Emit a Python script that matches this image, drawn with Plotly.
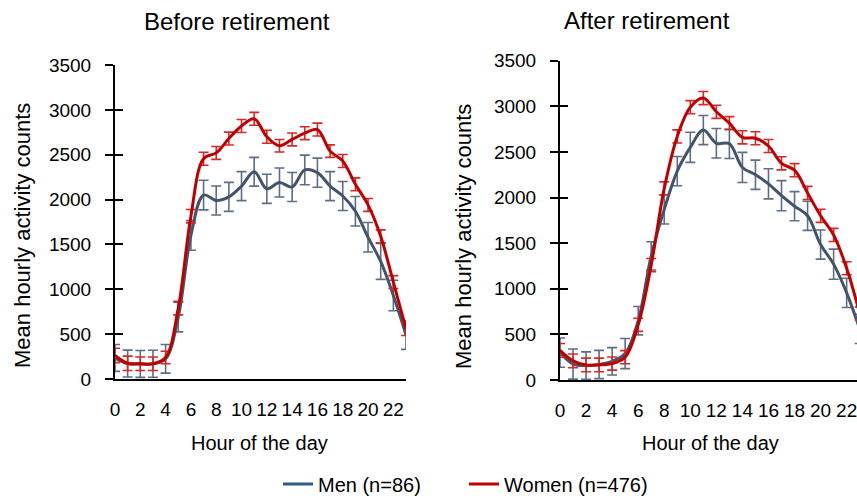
import plotly.graph_objects as go

hours = list(range(24))

# Before retirement
before_men = [235, 172, 168, 170, 225, 690, 1600, 2050, 1990, 2030, 2150, 2310, 2120, 2190,
              2140, 2330, 2300, 2150, 2040, 1870, 1580, 1310, 930, 490]
before_men_err = [150, 150, 150, 150, 160, 165, 165, 165, 162, 162, 162, 160, 162, 162,
                  162, 165, 162, 162, 162, 165, 165, 200, 170, 160]
before_women = [262, 175, 170, 170, 240, 790, 1815, 2455, 2520, 2680, 2820, 2900, 2700, 2600,
                2670, 2740, 2780, 2540, 2430, 2170, 1940, 1590, 1080, 560]
before_women_err = [80, 80, 75, 75, 70, 75, 75, 72, 72, 72, 72, 72, 72, 70,
                    72, 72, 72, 70, 72, 72, 72, 72, 72, 75]

# After retirement
after_men = [300, 175, 158, 170, 205, 290, 650, 1360, 1870, 2290, 2550, 2740, 2595, 2590,
             2330, 2250, 2150, 2020, 1905, 1800, 1485, 1270, 955, 560]
after_men_err = [160, 165, 150, 155, 150, 165, 155, 155, 160, 160, 165, 160, 162, 162,
                 165, 160, 165, 165, 160, 160, 160, 165, 160, 160]
after_women = [325, 210, 165, 165, 180, 250, 605, 1260, 2100, 2670, 2990, 3090, 2940, 2815,
               2660, 2650, 2565, 2375, 2300, 2050, 1800, 1590, 1225, 730]
after_women_err = [75, 75, 75, 75, 72, 72, 72, 72, 72, 72, 72, 72, 72, 72,
                   72, 72, 72, 72, 72, 72, 72, 72, 72, 72]

xtick_vals = list(range(0, 23, 2))
ytick_vals = list(range(0, 3501, 500))

MEN_LINE = "#44546A"
MEN_ERR = "#5E6E85"
MEN_LEGEND = "#2F5A8C"
WOMEN_LINE = "#C00000"
WOMEN_ERR = "#D42A2A"
FONT = "Liberation Sans, Arial, sans-serif"

W, H = 857, 498

fig = go.Figure()

def add_pair(xa, ya_men, ya_women, men, men_err, women, women_err):
    fig.add_trace(go.Scatter(
        x=hours, y=men, mode="lines", line=dict(color=MEN_LINE, width=3, shape="spline", smoothing=1),
        error_y=dict(type="data", array=men_err, visible=True, color=MEN_ERR, thickness=1.6, width=5),
        xaxis=xa, yaxis=ya_men, showlegend=False, cliponaxis=True))
    fig.add_trace(go.Scatter(
        x=hours, y=women, mode="lines", line=dict(color=WOMEN_LINE, width=3, shape="spline", smoothing=1),
        error_y=dict(type="data", array=women_err, visible=True, color=WOMEN_ERR, thickness=1.6, width=5),
        xaxis=xa, yaxis=ya_women, showlegend=False, cliponaxis=True))

add_pair("x", "y", "y3", before_men, before_men_err, before_women, before_women_err)
add_pair("x2", "y2", "y4", after_men, after_men_err, after_women, after_women_err)

# legend-only entries
fig.add_trace(go.Scatter(x=[None], y=[None], mode="lines", name="Men (n=86)",
                         line=dict(color=MEN_LEGEND, width=3)))
fig.add_trace(go.Scatter(x=[None], y=[None], mode="lines", name="Women (n=476)",
                         line=dict(color=WOMEN_LINE, width=3)))

axis_common_x = dict(tickvals=xtick_vals, ticks="", showline=True, linecolor="black", linewidth=2,
                     showgrid=False, zeroline=False, tickfont=dict(size=19, color="black"),
                     ticklabelstandoff=12, fixedrange=True, automargin=False,
                     ticklabeloverflow="allow")
axis_common_y = dict(tickvals=ytick_vals, range=[0, 3500], ticks="outside", ticklen=8, tickwidth=2,
                     tickcolor="black", showline=True, linecolor="black", linewidth=2,
                     showgrid=False, zeroline=False, tickfont=dict(size=19, color="black"),
                     ticklabelstandoff=10, fixedrange=True, automargin=False)
axis_overlay_y = dict(tickvals=ytick_vals, range=[0, 3500], ticks="inside", ticklen=8, tickwidth=2,
                      tickcolor="black", showline=False, showticklabels=False,
                      showgrid=False, zeroline=False, fixedrange=True, automargin=False)

fig.update_layout(
    width=W, height=H,
    margin=dict(l=0, r=0, t=0, b=0, autoexpand=False),
    paper_bgcolor="white", plot_bgcolor="rgba(0,0,0,0)",
    font=dict(family=FONT, color="black"),
    xaxis=dict(domain=[115 / W, 406 / W], range=[0, 23], anchor="y", **axis_common_x),
    yaxis=dict(domain=[(H - 379) / H, (H - 65) / H], anchor="x", **axis_common_y),
    yaxis3=dict(overlaying="y", anchor="x", side="left", **axis_overlay_y),
    xaxis2=dict(domain=[560 / W, 1.0], range=[0, (W - 560) / 13.03], anchor="y2", **axis_common_x),
    yaxis2=dict(domain=[(H - 380) / H, (H - 60.7) / H], anchor="x2", **axis_common_y),
    yaxis4=dict(overlaying="y2", anchor="x2", side="left", **axis_overlay_y),
    showlegend=True,
    legend=dict(orientation="h", x=278 / W, xanchor="left", y=(H - 484) / H, yanchor="middle",
                font=dict(size=20, color="black"), entrywidth=141, entrywidthmode="pixels",
                bgcolor="rgba(0,0,0,0)"),
    annotations=[
        dict(text="Before retirement", x=237 / W, y=(H - 22) / H, xref="paper", yref="paper",
             showarrow=False, font=dict(size=24), xanchor="center", yanchor="middle"),
        dict(text="After retirement", x=647 / W, y=(H - 20) / H, xref="paper", yref="paper",
             showarrow=False, font=dict(size=24), xanchor="center", yanchor="middle"),
        dict(text="Hour of the day", x=259.5 / W, y=(H - 443) / H, xref="paper", yref="paper",
             showarrow=False, font=dict(size=20), xanchor="center", yanchor="middle"),
        dict(text="Hour of the day", x=710 / W, y=(H - 443) / H, xref="paper", yref="paper",
             showarrow=False, font=dict(size=20), xanchor="center", yanchor="middle"),
        dict(text="Mean hourly activity counts", x=22 / W, y=(H - 236) / H, xref="paper", yref="paper",
             showarrow=False, font=dict(size=22), textangle=-90, xanchor="center", yanchor="middle"),
        dict(text="Mean hourly activity counts", x=463 / W, y=(H - 236) / H, xref="paper", yref="paper",
             showarrow=False, font=dict(size=22), textangle=-90, xanchor="center", yanchor="middle"),
    ],
)

fig.write_html("out.html", config={"displayModeBar": False},
               post_script="document.body.style.margin='0px';")
